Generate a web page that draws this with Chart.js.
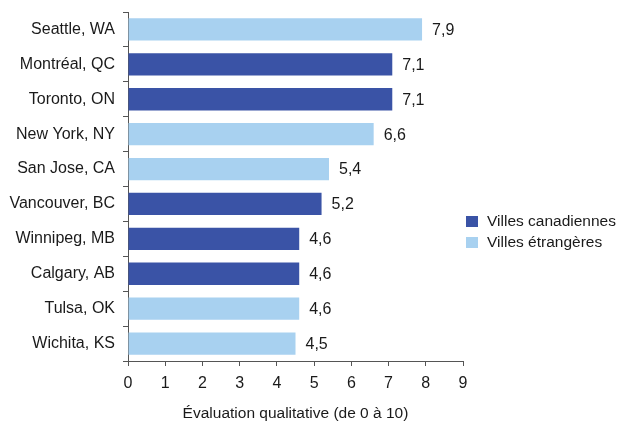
<!DOCTYPE html>
<html>
<head>
<meta charset="utf-8">
<script src="https://cdn.jsdelivr.net/npm/chart.js@4/dist/chart.umd.min.js"></script>
<style>
  html, body { margin: 0; padding: 0; background: #fff; }
  #wrap { width: 618px; height: 431px; position: relative; }
</style>
</head>
<body>
<div id="wrap"><canvas id="c" width="618" height="431"></canvas></div>
<script>
const cities = ["Seattle, WA", "Montréal, QC", "Toronto, ON", "New York, NY", "San Jose, CA",
                "Vancouver, BC", "Winnipeg, MB", "Calgary, AB", "Tulsa, OK", "Wichita, KS"];
const scores = [7.9, 7.1, 7.1, 6.6, 5.4, 5.2, 4.6, 4.6, 4.6, 4.5];
const isCanadian = [false, true, true, false, false, true, true, true, false, false];
const xTicks = [0, 1, 2, 3, 4, 5, 6, 7, 8, 9];
const legendLabels = ["Villes canadiennes", "Villes étrangères"];

const DARK = "#3a53a6";
const LIGHT = "#a8d1f0";
const TEXT = "#1a1a1a";
const FONT = "'Liberation Sans', Arial, Helvetica, sans-serif";

const barColors = isCanadian.map(c => c ? DARK : LIGHT);

// value labels to the right of each bar, French decimal comma
const valueLabels = {
  id: "valueLabels",
  afterDatasetsDraw(chart) {
    const ctx = chart.ctx;
    const meta = chart.getDatasetMeta(0);
    ctx.save();
    ctx.font = "16px " + FONT;
    ctx.fillStyle = TEXT;
    ctx.textAlign = "left";
    ctx.textBaseline = "middle";
    meta.data.forEach((bar, i) => {
      const txt = scores[i].toFixed(1).replace(".", ",");
      ctx.fillText(txt, bar.x + 10, bar.y + 1);
    });
    ctx.restore();
  }
};

// legend box at the right of the plot
const sideLegend = {
  id: "sideLegend",
  afterDraw(chart) {
    const ctx = chart.ctx;
    const x = chart.chartArea.right + 3;
    const y0 = 222;
    const gap = 21;
    const colors = [DARK, LIGHT];
    ctx.save();
    ctx.font = "15.5px " + FONT;
    ctx.textBaseline = "middle";
    ctx.textAlign = "left";
    legendLabels.forEach((lab, i) => {
      const y = y0 + i * gap;
      ctx.fillStyle = colors[i];
      ctx.fillRect(x, y - 6, 12, 11);
      ctx.fillStyle = TEXT;
      ctx.fillText(lab, x + 21, y);
    });
    ctx.restore();
  }
};

new Chart(document.getElementById("c"), {
  type: "bar",
  data: {
    labels: cities,
    datasets: [{
      data: scores,
      backgroundColor: barColors,
      borderWidth: 0,
      barPercentage: 0.64,
      categoryPercentage: 1.0
    }]
  },
  options: {
    indexAxis: "y",
    responsive: false,
    animation: false,
    devicePixelRatio: 1,
    layout: { padding: { top: 12, right: 155, bottom: 0, left: 0 } },
    plugins: {
      legend: { display: false },
      tooltip: { enabled: false }
    },
    scales: {
      x: {
        min: 0,
        max: 9,
        afterBuildTicks(scale) { scale.ticks = xTicks.map(v => ({ value: v })); },
        afterFit(scale) { scale.height = 70; },
        ticks: {
          color: TEXT,
          font: { family: FONT, size: 16 },
          padding: 8,
          maxRotation: 0
        },
        grid: {
          drawOnChartArea: false,
          drawTicks: true,
          tickLength: 5,
          color: "#555"
        },
        border: { color: "#555", width: 1 },
        title: {
          display: true,
          text: "Évaluation qualitative (de 0 à 10)",
          color: TEXT,
          font: { family: FONT, size: 15.5 },
          padding: { top: 10, bottom: 8 }
        }
      },
      y: {
        afterFit(scale) {
          scale.width = 128;
          scale.paddingTop = 0;
          scale.paddingBottom = 0;
        },
        ticks: {
          color: TEXT,
          font: { family: FONT, size: 16 },
          padding: 8
        },
        grid: {
          offset: true,
          drawOnChartArea: false,
          drawTicks: true,
          tickLength: 5,
          color: "#555"
        },
        border: { color: "#555", width: 1 }
      }
    }
  },
  plugins: [valueLabels, sideLegend]
});
</script>
</body>
</html>
